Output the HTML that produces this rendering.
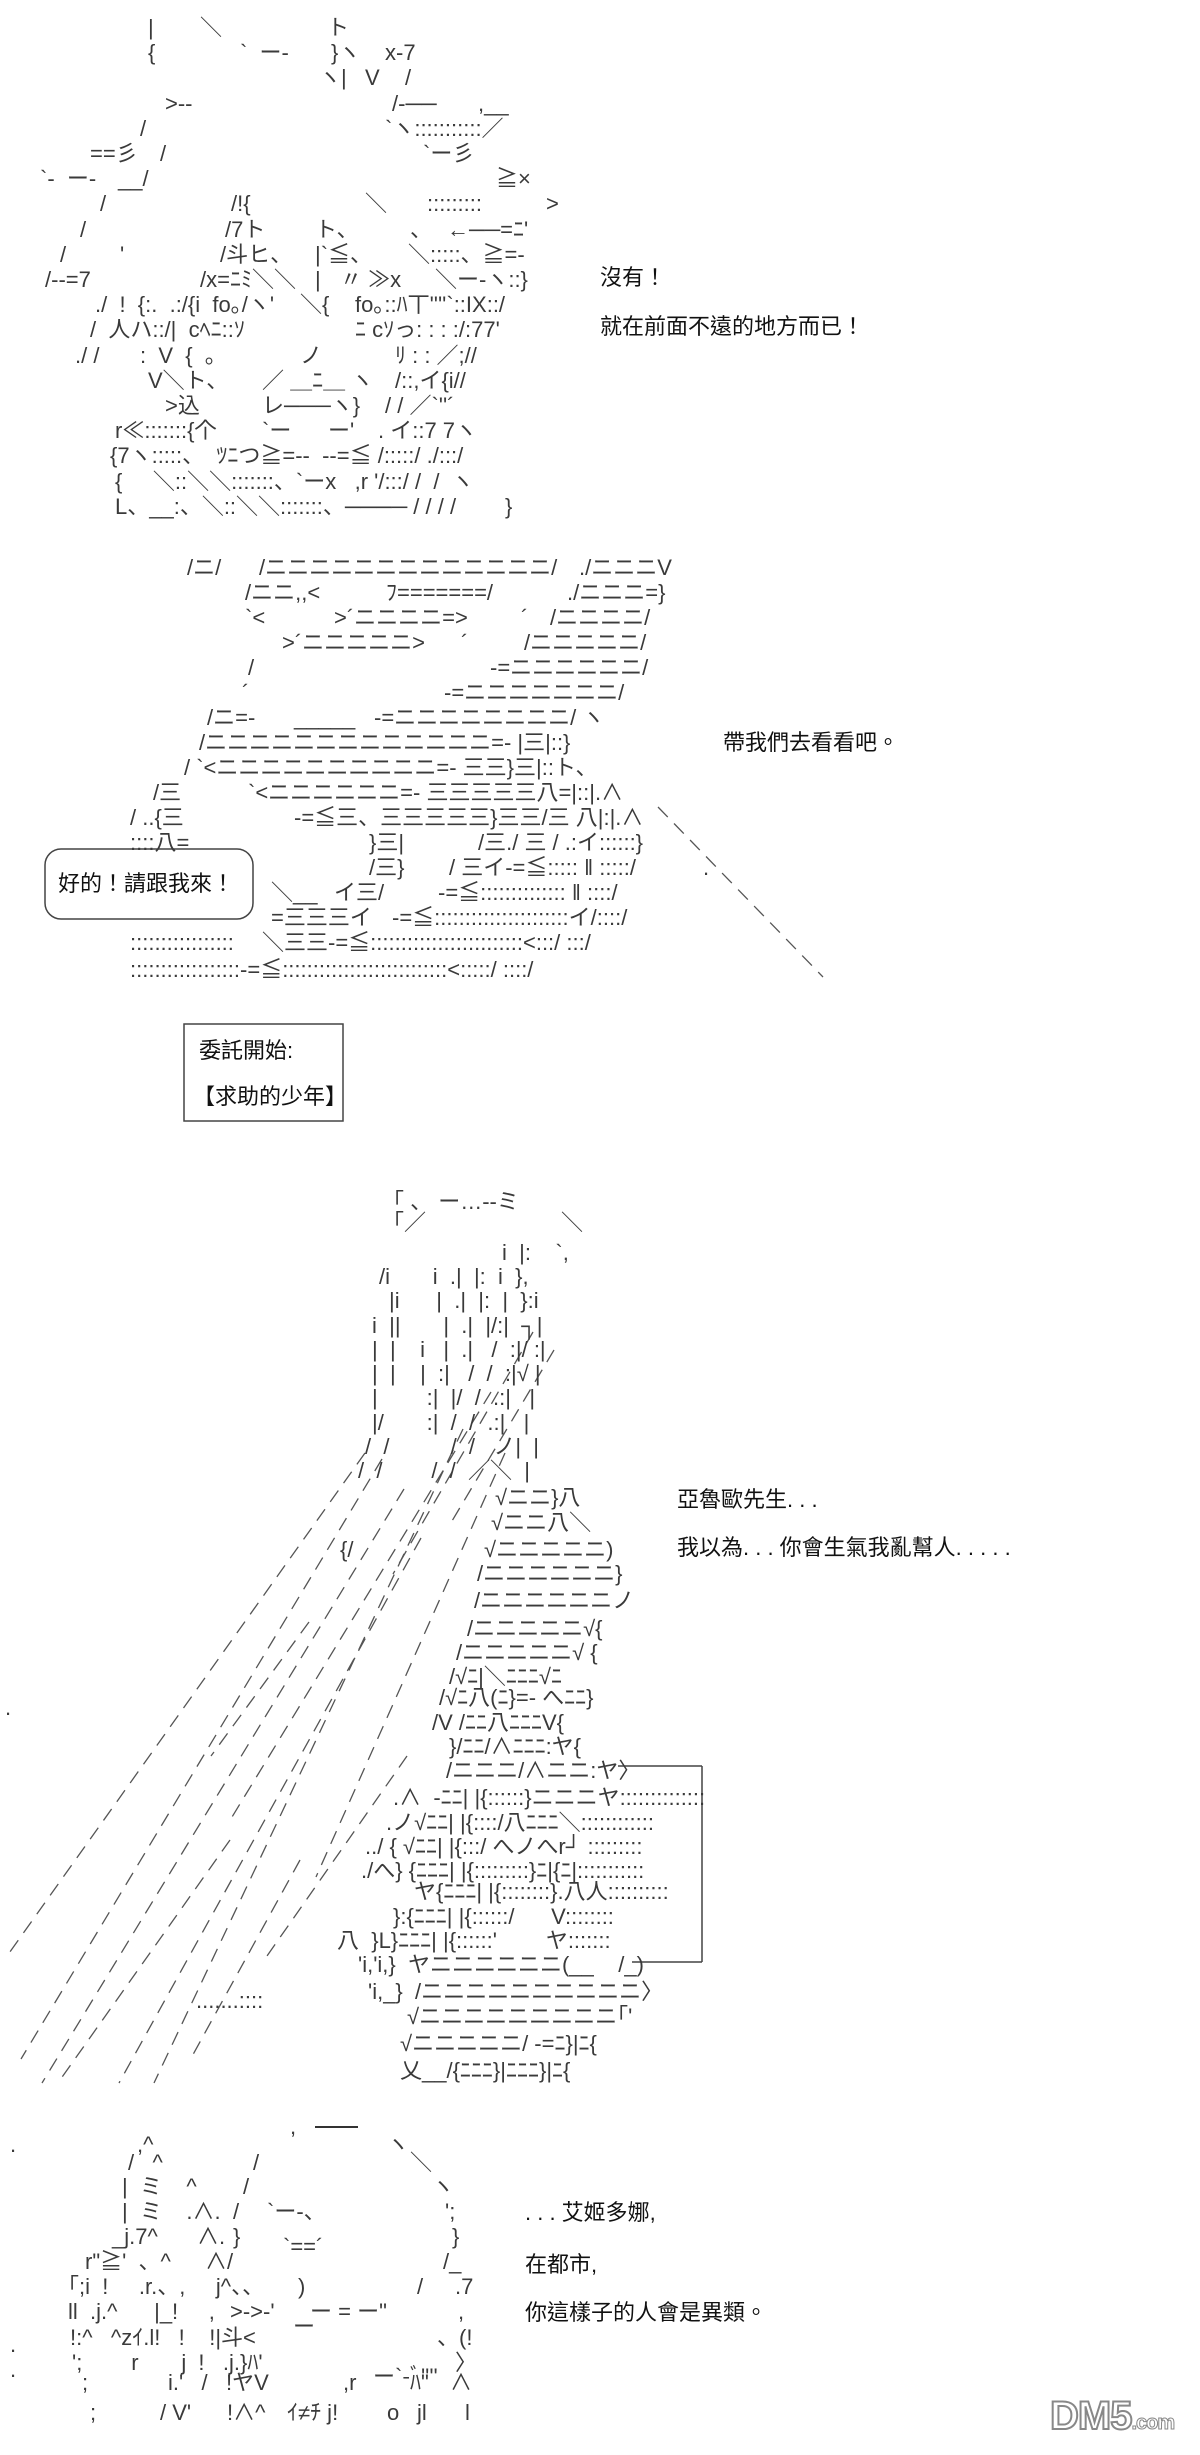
<!DOCTYPE html>
<html><head><meta charset="utf-8">
<style>
html,body{margin:0;padding:0;background:#fff;}
body{width:1200px;height:2455px;position:relative;overflow:hidden;}
b{position:absolute;white-space:pre;font-weight:normal;font-size:22px;line-height:25px;color:#3a3a3a;font-family:"Liberation Sans","Noto Sans CJK JP",sans-serif;}
.t{color:#111;font-size:22px;font-family:"Liberation Sans","Noto Sans CJK TC",sans-serif;}
svg{position:absolute;left:0;top:0;}
</style></head><body>
<svg width="1200" height="2455">
<g stroke="#555" stroke-width="1.3" fill="none" stroke-dasharray="14 9">
<line x1="658" y1="807" x2="823" y2="977"/>
<line x1="365" y1="1453" x2="7" y2="1956"/>
<line x1="382" y1="1459" x2="21" y2="2059"/>
<line x1="404" y1="1489" x2="42" y2="2083"/>
<line x1="421" y1="1538" x2="119" y2="2083"/>
<line x1="463" y1="1429" x2="154" y2="2083"/>
<line x1="491" y1="1392" x2="232" y2="1817"/>
<line x1="533" y1="1332" x2="393" y2="1574"/>
<line x1="554" y1="1350" x2="449" y2="1526"/>
<line x1="505" y1="1453" x2="316" y2="1877"/>
<line x1="407" y1="1756" x2="267" y2="1956"/>
<line x1="309" y1="1622" x2="211" y2="1756"/>
<line x1="230" y1="1840" x2="60" y2="2080"/>
<line x1="300" y1="1860" x2="190" y2="2060"/>
</g>
<rect x="45" y="849" width="208" height="70" rx="16" fill="none" stroke="#444" stroke-width="1.5"/>
<rect x="184" y="1024" width="159" height="97" fill="none" stroke="#444" stroke-width="1.5"/>
<line x1="618" y1="1766" x2="702" y2="1766" stroke="#444" stroke-width="1.5"/>
<line x1="702" y1="1766" x2="702" y2="1962" stroke="#444" stroke-width="1.5"/>
<line x1="632" y1="1962" x2="702" y2="1962" stroke="#444" stroke-width="1.5"/>
<line x1="315" y1="2127" x2="358" y2="2127" stroke="#333" stroke-width="2"/>
</svg>

<!-- Section 1 -->
<b style="left:148px;top:15px">|</b><b style="left:200px;top:15px">＼</b><b style="left:327px;top:15px">ト</b>
<b style="left:148px;top:40px">{</b><b style="left:240px;top:40px">`  ー-</b><b style="left:331px;top:40px">}ヽ</b><b style="left:385px;top:40px">x-7</b>
<b style="left:319px;top:65px">ヽ|</b><b style="left:365px;top:65px">V</b><b style="left:405px;top:65px">/</b>
<b style="left:165px;top:91px">&gt;--</b><b style="left:392px;top:91px">/-──</b><b style="left:478px;top:91px">,__</b>
<b style="left:140px;top:116px">/</b><b style="left:385px;top:116px">`ヽ:::::::::::／</b>
<b style="left:90px;top:141px">==彡</b><b style="left:160px;top:141px">/</b><b style="left:423px;top:141px">`ー彡</b>
<b style="left:40px;top:166px">`-  ー-</b><b style="left:118px;top:166px">__/</b><b style="left:496px;top:166px">≧×</b>
<b style="left:100px;top:191px">/</b><b style="left:231px;top:191px">/!{</b><b style="left:365px;top:191px">＼</b><b style="left:427px;top:191px">:::::::::</b><b style="left:546px;top:191px">&gt;</b>
<b style="left:80px;top:217px">/</b><b style="left:225px;top:217px">/7ト</b><b style="left:315px;top:217px">ト、</b><b style="left:410px;top:217px">、</b><b style="left:447px;top:217px">←──=ﾆ'</b>
<b style="left:60px;top:242px">/</b><b style="left:120px;top:242px">'</b><b style="left:220px;top:242px">/斗ヒ、</b><b style="left:315px;top:242px">|`≦、</b><b style="left:408px;top:242px">＼:::::、≧=-</b>
<b style="left:45px;top:267px">/--=7</b><b style="left:200px;top:267px">/x=ﾆﾐ＼＼</b><b style="left:315px;top:267px">|</b><b style="left:340px;top:267px">〃 ≫x</b><b style="left:435px;top:267px">＼ー-ヽ::}</b>
<b style="left:95px;top:292px">./  !  {:.  .:/{i  fo｡/ヽ'</b><b style="left:300px;top:292px">＼{</b><b style="left:355px;top:292px">fo｡::ﾊ丅''''`::IX::/</b>
<b style="left:90px;top:317px">/  人ハ::/|  cﾍﾆ::ｿ</b><b style="left:355px;top:317px">ﾆ cｿっ: : : :/:77'</b>
<b style="left:75px;top:343px">./ /</b><b style="left:140px;top:343px">:  V  {  。</b><b style="left:300px;top:343px">ノ</b><b style="left:395px;top:343px">ﾘ : : ／;//</b>
<b style="left:148px;top:368px">V＼ト、</b><b style="left:262px;top:368px">／ ＿ﾆ＿ ヽ</b><b style="left:395px;top:368px">/::,イ{i//</b>
<b style="left:165px;top:393px">&gt;込</b><b style="left:262px;top:393px">レ───ヽ}</b><b style="left:385px;top:393px">/ / ／`''´</b>
<b style="left:115px;top:418px">r≪:::::::{个</b><b style="left:262px;top:418px">`ー      ー'</b><b style="left:378px;top:418px">. イ::7 7ヽ</b>
<b style="left:110px;top:443px">{7ヽ:::::、  ﾂﾆつ≧=--  --=≦ /:::::/ ./:::/</b>
<b style="left:115px;top:469px">{     ＼::＼＼:::::::、`ーx   ,r '/:::/ /  /  ヽ</b>
<b style="left:115px;top:494px">L、__:、＼::＼＼:::::::、──── / / / /        }</b>
<b class="t" style="left:600px;top:265px">沒有！</b>
<b class="t" style="left:600px;top:314px">就在前面不遠的地方而已！</b>

<!-- Section 2 -->
<b style="left:187px;top:555px">/ニ/</b><b style="left:259px;top:555px">/ニニニニニニニニニニニニニ/</b><b style="left:579px;top:555px">./ニニニV</b>
<b style="left:245px;top:580px">/ニニ,,&lt;</b><b style="left:386px;top:580px">ﾌ=======/</b><b style="left:567px;top:580px">./ニニニ=}</b>
<b style="left:245px;top:605px">`&lt;</b><b style="left:334px;top:605px">&gt;´ニニニニ=&gt;</b><b style="left:521px;top:605px">´</b><b style="left:550px;top:605px">/ニニニニ/</b>
<b style="left:282px;top:630px">&gt;´ニニニニニ&gt;</b><b style="left:461px;top:630px">´</b><b style="left:524px;top:630px">/ニニニニニ/</b>
<b style="left:248px;top:655px">/</b><b style="left:490px;top:655px">-=ニニニニニニ/</b>
<b style="left:242px;top:680px">´</b><b style="left:444px;top:680px">-=ニニニニニニニ/</b>
<b style="left:207px;top:705px">/ニ=-</b><b style="left:294px;top:705px">_____</b><b style="left:374px;top:705px">-=ニニニニニニニニ/ ヽ</b>
<b style="left:199px;top:730px">/ニニニニニニニニニニニニニ=- |三|::}</b>
<b style="left:184px;top:755px">/ `&lt;ニニニニニニニニニニ=- 三三}三|::ト、</b>
<b style="left:153px;top:780px">/三</b><b style="left:248px;top:780px">`&lt;ニニニニニニ=- 三三三三三八=|::|.∧</b>
<b style="left:130px;top:805px">/ ..{三</b><b style="left:294px;top:805px">-=≦三、三三三三三}三三/三 八|:|.∧</b>
<b style="left:130px;top:830px">::::八=</b><b style="left:369px;top:830px">}三|</b><b style="left:478px;top:830px">/三./ 三 / .:イ::::::}</b>
<b style="left:369px;top:855px">/三}</b><b style="left:449px;top:855px">/ 三イ-=≦::::: ‖ :::::/</b>
<b style="left:271px;top:880px">＼__</b><b style="left:334px;top:880px">イ三/</b><b style="left:438px;top:880px">-=≦:::::::::::::: ‖ ::::/</b>
<b style="left:271px;top:905px">=三三三イ</b><b style="left:392px;top:905px">-=≦::::::::::::::::::::::イ/::::/</b>
<b style="left:130px;top:930px">:::::::::::::::::</b><b style="left:262px;top:930px">＼三三-=≦:::::::::::::::::::::::::&lt;:::/ :::/</b>
<b style="left:130px;top:957px">::::::::::::::::::-=≦:::::::::::::::::::::::::::&lt;:::::/ ::::/</b>
<b style="left:703px;top:855px">.</b>
<b class="t" style="left:58px;top:871px">好的！請跟我來！</b>
<b class="t" style="left:723px;top:730px">帶我們去看看吧。</b>
<b class="t" style="left:199px;top:1038px">委託開始:</b>
<b class="t" style="left:193px;top:1084px">【求助的少年】</b>

<!-- Section 3 -->
<b style="left:393px;top:1189px">｢ 、 ー…--ミ</b>
<b style="left:393px;top:1210px">｢／</b><b style="left:561px;top:1210px">＼</b>
<b style="left:502px;top:1240px">i  |:    `,</b>
<b style="left:379px;top:1264px">/i       i  .|  |:  i  },</b>
<b style="left:389px;top:1288px">|i      |  .|  |:  |  }:i</b>
<b style="left:372px;top:1313px">i  ||       |  .|  |/:|  ┐|</b>
<b style="left:372px;top:1337px">|  |    i   |  .|   /  :|/ :|</b>
<b style="left:372px;top:1361px">|  |    |  :|   /  /  :|√ |</b>
<b style="left:372px;top:1385px">|        :|  |/  /  .:|   |</b>
<b style="left:372px;top:1410px">|/       :|  /  /  .:|   |</b>
<b style="left:365px;top:1434px">/  /          /  /   ノ|  |</b>
<b style="left:358px;top:1458px">/  /        /  /  ／＼  |</b>
<b style="left:495px;top:1485px">√ニニ}八</b>
<b style="left:491px;top:1510px">√ニニ八＼</b>
<b style="left:340px;top:1537px">{/</b><b style="left:484px;top:1537px">√ニニニニニ)</b>
<b style="left:477px;top:1561px">/ニニニニニニ}</b>
<b style="left:474px;top:1588px">/ニニニニニニノ</b>
<b style="left:467px;top:1616px">/ニニニニニ√{</b>
<b style="left:456px;top:1640px">/ニニニニニ√ {</b>
<b style="left:449px;top:1664px">/√ﾆ|＼ﾆﾆﾆ√ﾆ</b>
<b style="left:439px;top:1685px">/√ﾆ八(ﾆ}=- へﾆﾆ}</b>
<b style="left:432px;top:1710px">/V /ﾆﾆ八ﾆﾆﾆV{</b>
<b style="left:449px;top:1734px">}/ﾆﾆ/∧ﾆﾆﾆ:ヤ{</b>
<b style="left:446px;top:1758px">/ニニニ/∧ニニ:ヤ〉</b>
<b style="left:393px;top:1785px">.∧  -ﾆﾆ| |{::::::}ニニニヤ::::::::::::::</b>
<b style="left:386px;top:1810px">.ノ√ﾆﾆ| |{::::/八ﾆﾆﾆ＼::::::::::::</b>
<b style="left:365px;top:1834px">../ { √ﾆﾆ| |{:::/ へノへr┘ :::::::::</b>
<b style="left:361px;top:1858px">./へ} {ﾆﾆﾆ| |{:::::::::}ﾆ|{ﾆ|:::::::::::</b>
<b style="left:414px;top:1879px">ヤ{ﾆﾆﾆ| |{::::::::}.八人::::::::::</b>
<b style="left:393px;top:1904px">}:{ﾆﾆﾆ| |{::::::/      V::::::::</b>
<b style="left:337px;top:1928px">八  }L}ﾆﾆﾆ| |{::::::'        ヤ:::::::</b>
<b style="left:358px;top:1952px">'i,'i,}  ヤニニニニニニ(__    /_)</b>
<b style="left:368px;top:1979px">'i,_}  /ニニニニニニニニニニ〉</b>
<b style="left:407px;top:2004px">√ニニニニニニニニニ｢'</b>
<b style="left:400px;top:2031px">√ニニニニニ/ -=ﾆ}|ﾆ{</b>
<b style="left:400px;top:2058px">乂__/{ﾆﾆﾆ}|ﾆﾆﾆ}|ﾆ{</b>
<b style="left:196px;top:1988px">.......::::</b>
<b style="left:5px;top:1695px">.</b>
<b class="t" style="left:677px;top:1487px">亞魯歐先生. . .</b>
<b class="t" style="left:677px;top:1535px">我以為. . . 你會生氣我亂幫人. . . . .</b>

<!-- Section 4 -->
<b style="left:290px;top:2114px">,</b>
<b style="left:10px;top:2132px">.</b><b style="left:137px;top:2132px">,^</b><b style="left:387px;top:2132px">ヽ</b>
<b style="left:128px;top:2150px">/   ^</b><b style="left:253px;top:2150px">/</b><b style="left:410px;top:2150px">＼</b>
<b style="left:122px;top:2174px">|  ミ    ^</b><b style="left:243px;top:2174px">/</b><b style="left:432px;top:2174px">ヽ</b>
<b style="left:122px;top:2199px">|  ミ    .∧.</b><b style="left:233px;top:2199px">/</b><b style="left:267px;top:2199px">`ー-、</b><b style="left:445px;top:2199px">';</b>
<b style="left:112px;top:2224px">_j.7^</b><b style="left:197px;top:2224px">∧.</b><b style="left:233px;top:2224px">}</b><b style="left:283px;top:2234px">`==´</b><b style="left:452px;top:2224px">}</b>
<b style="left:85px;top:2249px">r"≧'  、^</b><b style="left:205px;top:2249px">∧/</b><b style="left:443px;top:2249px">/_</b>
<b style="left:68px;top:2274px">｢;i  !     .r.、,     j^、、</b><b style="left:298px;top:2274px">)</b><b style="left:417px;top:2274px">/</b><b style="left:455px;top:2274px">.7</b>
<b style="left:68px;top:2299px">ll  .j.^      |_!     ,</b><b style="left:230px;top:2299px">&gt;-&gt;-'</b><b style="left:310px;top:2299px">ー = ー"</b><b style="left:458px;top:2299px">,</b>
<b style="left:293px;top:2314px">ー</b>
<b style="left:70px;top:2325px">!:^   ^zｲ.l!   !    !|斗&lt;</b><b style="left:437px;top:2325px">、(!</b>
<b style="left:10px;top:2332px">.</b>
<b style="left:72px;top:2350px">';        r       j  !   .j.}ﾊ'</b><b style="left:455px;top:2350px">〉</b>
<b style="left:10px;top:2357px">.</b>
<b style="left:373px;top:2364px">ー`-ﾞ''''</b>
<b style="left:82px;top:2370px">;</b><b style="left:168px;top:2370px">i.'   /   !ヤV</b><b style="left:343px;top:2370px">,r</b><b style="left:410px;top:2370px">ﾊ"</b><b style="left:450px;top:2370px">∧</b>
<b style="left:90px;top:2400px">;</b><b style="left:160px;top:2400px">/ V'</b><b style="left:227px;top:2400px">!∧^</b><b style="left:287px;top:2400px">ｲ≠ﾁ j!</b><b style="left:387px;top:2400px">o</b><b style="left:417px;top:2400px">jl</b><b style="left:465px;top:2400px">l</b>
<b class="t" style="left:525px;top:2200px">. . . 艾姬多娜,</b>
<b class="t" style="left:525px;top:2252px">在都市,</b>
<b class="t" style="left:525px;top:2300px">你這樣子的人會是異類。</b>

<div style="position:absolute;left:1050px;top:2396px;font:bold 40px/1 'Liberation Sans',sans-serif;color:#fff;-webkit-text-stroke:2px #888;letter-spacing:-1px;">DM5<span style="font-size:20px;-webkit-text-stroke:1px #888;">.com</span></div>
</body></html>
